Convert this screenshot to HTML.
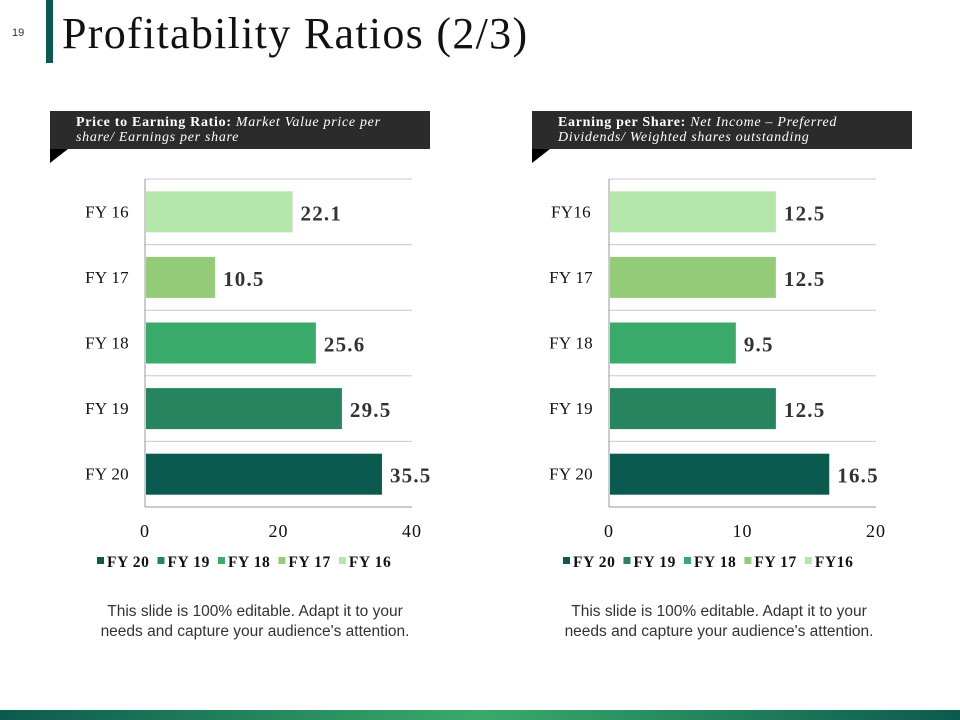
<!DOCTYPE html>
<html><head><meta charset="utf-8"><style>
body{margin:0;width:960px;height:720px;overflow:hidden;background:#fff;font-family:"Liberation Serif",serif;position:relative}
.abs{position:absolute}
.hdr{position:absolute;top:111px;height:38px;width:380px;background:#2b2b2b;color:#fff;font-size:14px;letter-spacing:0.7px;line-height:15px;box-sizing:border-box;padding:4px 10px 0 26px;white-space:nowrap}
.fold{position:absolute;top:149px;width:0;height:0;border-top:14px solid #000;border-left:18px solid transparent;transform:scaleX(-1)}
.note{position:absolute;top:602px;width:360px;text-align:center;font-family:"Liberation Sans",sans-serif;font-size:15.5px;line-height:20px;color:#333}
</style></head><body>
<div class="abs" style="left:12px;top:27px;font-family:'Liberation Sans',sans-serif;font-size:11px;color:#333">19</div>
<div class="abs" style="left:46px;top:0;width:7px;height:63px;background:#0b5a4f"></div>
<div class="abs" style="left:62px;top:9px;font-size:44px;letter-spacing:1.3px;line-height:50px;color:#111">Profitability Ratios (2/3)</div>

<div class="hdr" style="left:50px"><b>Price to Earning Ratio:</b> <i>Market Value price per<br>share/ Earnings per share</i></div>
<div class="fold" style="left:50px"></div>
<div class="hdr" style="left:532px"><b>Earning per Share:</b> <i>Net Income – Preferred<br>Dividends/ Weighted shares outstanding</i></div>
<div class="fold" style="left:532px"></div>

<svg id="chart" class="abs" style="left:0;top:0" width="960" height="720"></svg>

<div class="note" style="left:75px">This slide is 100% editable. Adapt it to your<br>needs and capture your audience's attention.</div>
<div class="note" style="left:539px">This slide is 100% editable. Adapt it to your<br>needs and capture your audience's attention.</div>
<div class="abs" style="left:0;top:710px;width:960px;height:10px;background:linear-gradient(90deg,#0b5a4f,#3aaa6a 50%,#0b5a4f)"></div>

<script>
const leftCats = ["FY 16","FY 17","FY 18","FY 19","FY 20"];
const leftVals = [22.1,10.5,25.6,29.5,35.5];
const leftTicks = [0,20,40];
const leftLegend = ["FY 20","FY 19","FY 18","FY 17","FY 16"];
const rightCats = ["FY16","FY 17","FY 18","FY 19","FY 20"];
const rightVals = [12.5,12.5,9.5,12.5,16.5];
const rightTicks = [0,10,20];
const rightLegend = ["FY 20","FY 19","FY 18","FY 17","FY16"];
const colors = ["#b5e6ac","#93cb78","#3aaa6a","#26845f","#0b5a4f"];
const NS="http://www.w3.org/2000/svg";
const svg=document.getElementById('chart');
function mk(t,a,txt){const e=document.createElementNS(NS,t);for(const k in a)e.setAttribute(k,a[k]);if(txt!=null)e.textContent=txt;svg.appendChild(e);return e;}
function draw(side,cats,vals,ticks,legend,x0,x1,labelX,legX){
  const top=179,bottom=507,band=(bottom-top)/cats.length,max=ticks[ticks.length-1];
  const xs=v=>x0+(v/max)*(x1-x0);
  for(let i=0;i<cats.length;i++){
    const g=mk('line',{x1:x0,x2:x1,y1:top+i*band,y2:top+i*band,stroke:'#c8c8c8','stroke-width':1});
    
    
  }
  const ax=mk('line',{x1:x0,x2:x0,y1:top,y2:bottom,stroke:'#999'});
  
  
  const bx=mk('line',{x1:x0,x2:x1,y1:bottom,y2:bottom,stroke:'#999'});
  
  
  cats.forEach((c,i)=>{
    const y=top+i*band+(band-41)/2;
    const r=mk('rect',{x:x0+1,y:y,width:xs(vals[i])-x0-1,height:41,fill:colors[i]});
    
    
    const l=mk('text',{x:labelX,y:y+26,'text-anchor':'middle','font-size':17,'letter-spacing':0.3,fill:'#111'},c);
    
    
    const v=mk('text',{x:xs(vals[i])+8,y:y+29,'font-size':21,'letter-spacing':1.2,'font-weight':'bold',fill:'#333'},String(vals[i]));
    
    
  });
  ticks.forEach(t=>{
    const e=mk('text',{x:xs(t),y:537,'text-anchor':'middle','font-size':18,'letter-spacing':1,fill:'#111'},String(t));
    
    
  });
  let lx=legX;
  legend.forEach((n,i)=>{
    const s=mk('rect',{x:lx,y:557,width:7,height:7,fill:colors[4-i]});
    
    
    const t=mk('text',{x:lx+10,y:567,'font-size':15.5,'letter-spacing':0.6,'font-weight':'bold',fill:'#111'},n);
    
    
    lx+=10+t.getComputedTextLength()+8;
  });
}
draw('pe',leftCats,leftVals,leftTicks,leftLegend,145,412,107,97);
draw('eps',rightCats,rightVals,rightTicks,rightLegend,609,876,571,563);
</script>
</body></html>
